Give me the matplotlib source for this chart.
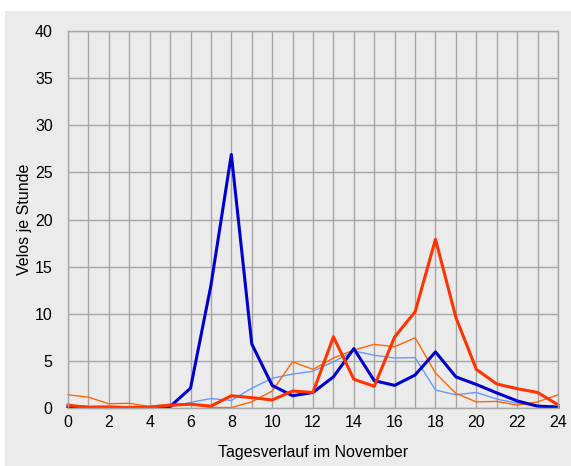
import matplotlib.pyplot as plt
import matplotlib.patches as patches
import numpy as np

plt.rcParams['font.family'] = ['Liberation Sans', 'DejaVu Sans']

stunden = np.arange(25)

# Velos je Stunde, vier Reihen
blau_dick = [0.15, 0.05, 0.05, 0.05, 0.05, 0.15, 2.1, 13.0, 26.9, 6.8, 2.4, 1.3,
             1.65, 3.3, 6.3, 2.9, 2.4, 3.5, 5.95, 3.3, 2.5, 1.6, 0.75, 0.2, 0.1]
blau_duenn = [0.25, 0.2, 0.25, 0.1, 0.05, 0.1, 0.6, 1.0, 0.8, 2.1, 3.15, 3.6,
              3.9, 4.9, 6.05, 5.6, 5.3, 5.35, 1.9, 1.4, 1.65, 0.95, 0.5, 0.2, 0.15]
rot_dick = [0.3, 0.05, 0.05, 0.05, 0.1, 0.3, 0.4, 0.2, 1.3, 1.1, 0.85, 1.8,
            1.65, 7.55, 3.05, 2.3, 7.55, 10.2, 17.9, 9.6, 4.1, 2.55, 2.05, 1.65, 0.35]
orange_duenn = [1.4, 1.15, 0.45, 0.5, 0.15, 0.4, 0.45, 0.05, 0.05, 0.65, 1.8, 4.9,
                4.1, 5.3, 6.15, 6.75, 6.5, 7.45, 3.7, 1.55, 0.65, 0.7, 0.3, 0.65, 1.4]

fig = plt.figure(figsize=(5.71, 4.66), dpi=100, facecolor='white')
# grauer Hintergrund (links und oben ein weisser Rand)
hg = patches.Rectangle((5 / 571, 0), 1, (466 - 11) / 466, transform=fig.transFigure,
                       facecolor='#ebebeb', edgecolor='none', zorder=-10)
fig.patches.append(hg)

ax = fig.add_axes([68 / 571, 58 / 466, 490 / 571, 377 / 466])
ax.set_facecolor('#ebebeb')

ax.plot(stunden, blau_duenn, color='#6699ff', linewidth=1.0, clip_on=False)
ax.plot(stunden, orange_duenn, color='#ff6600', linewidth=1.0, clip_on=False)
ax.plot(stunden, blau_dick, color='#0000cc', linewidth=2.2, clip_on=False)
ax.plot(stunden, rot_dick, color='#ff3300', linewidth=2.2, clip_on=False)

ax.set_xlim(0, 24)
ax.set_ylim(0, 40)
ax.set_xticks(np.arange(0, 25, 2))
ax.set_xticks(np.arange(0, 25, 1), minor=True)
ax.set_yticks(np.arange(0, 41, 5))
ax.grid(True, which='both', axis='x', color='#a6a6a6', linewidth=1.0)
ax.grid(True, which='major', axis='y', color='#a6a6a6', linewidth=1.0)
ax.set_axisbelow(True)
for s in ax.spines.values():
    s.set_color('#a6a6a6')
    s.set_linewidth(1.0)

ax.tick_params(which='both', length=0, labelsize=11.5)
ax.tick_params(axis='y', pad=11)
ax.tick_params(axis='x', pad=5)

ax.set_xlabel('Tagesverlauf im November', fontsize=11.5, labelpad=11)
ax.set_ylabel('Velos je Stunde', fontsize=11.5, labelpad=2)

fig.savefig('out.png', dpi=100, facecolor=fig.get_facecolor())
